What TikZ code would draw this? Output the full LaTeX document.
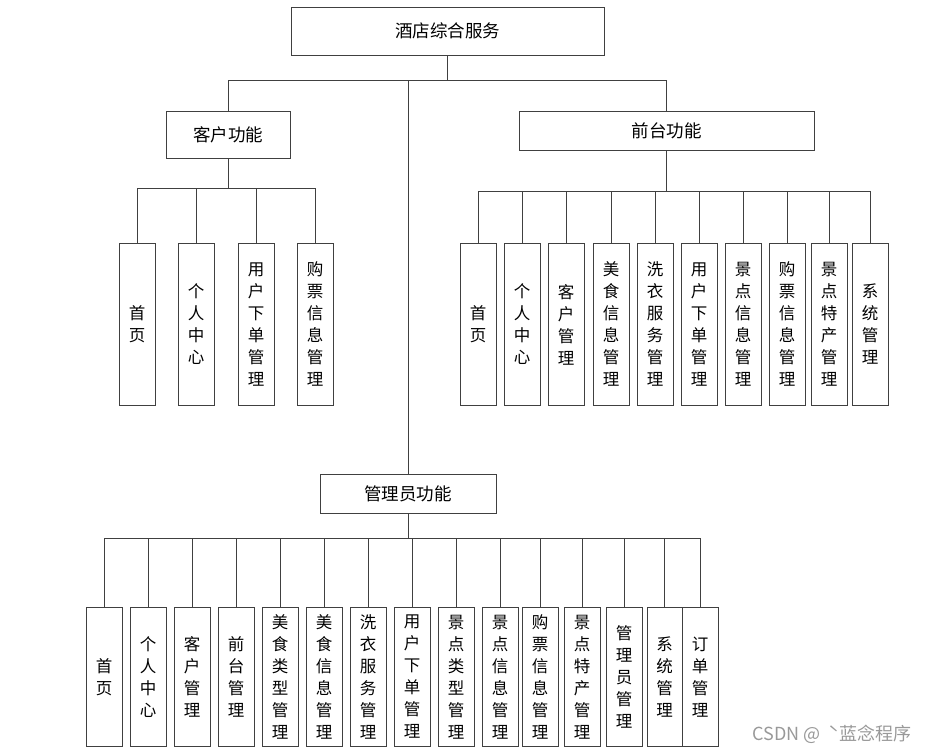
\documentclass[tikz,border=0pt]{standalone}
\usepackage{fontspec}
\setmainfont{Noto Sans CJK SC}
\usepackage{tikz}
\usetikzlibrary{positioning}
\definecolor{linegray}{HTML}{404040}

\begin{document}
\begin{tikzpicture}[x=1pt, y=-1pt,
    font=\fontsize{16.5}{22}\selectfont,
    headbox/.style={rectangle, draw=linegray, fill=white, line width=0.8pt, align=center,
      font=\fontsize{17.5}{22}\selectfont},
    leafbox/.style={rectangle, draw=linegray, fill=white, line width=0.8pt, align=center,
      minimum width=36pt, inner sep=0pt, anchor=north},
    qleaf/.style={leafbox, minimum height=162pt},
    aleaf/.style={leafbox, minimum height=139pt},
    link/.style={draw=linegray, line width=0.8pt}
  ]
    \useasboundingbox (0,0) rectangle (929,753);

    % top level
    \node[headbox, minimum width=313pt, minimum height=48pt] (root) at (447.5,31) {酒店综合服务};
    \node[headbox, minimum width=124pt, minimum height=47pt] (kehu) at (228,134.5) {客户功能};
    \node[headbox, minimum width=295pt, minimum height=39pt] (qiantai) at (666.5,130.5) {前台功能};
    \node[headbox, minimum width=176pt, minimum height=39pt] (admin) at (408,493.5) {管理员功能};

    % customer functions
    \node[qleaf] (k1) at (137,243) {首\\页};
    \node[qleaf] (k2) at (196,243) {个\\人\\中\\心};
    \node[qleaf] (k3) at (256,243) {用\\户\\下\\单\\管\\理};
    \node[qleaf] (k4) at (315,243) {购\\票\\信\\息\\管\\理};

    % front desk functions
    \node[qleaf] (q1) at (478,243) {首\\页};
    \node[qleaf] (q2) at (522,243) {个\\人\\中\\心};
    \node[qleaf] (q3) at (566,243) {客\\户\\管\\理};
    \node[qleaf] (q4) at (611,243) {美\\食\\信\\息\\管\\理};
    \node[qleaf] (q5) at (655,243) {洗\\衣\\服\\务\\管\\理};
    \node[qleaf] (q6) at (699,243) {用\\户\\下\\单\\管\\理};
    \node[qleaf] (q7) at (743,243) {景\\点\\信\\息\\管\\理};
    \node[qleaf] (q8) at (787,243) {购\\票\\信\\息\\管\\理};
    \node[qleaf] (q9) at (829,243) {景\\点\\特\\产\\管\\理};
    \node[qleaf] (q10) at (870,243) {系\\统\\管\\理};

    % admin functions
    \node[aleaf] (a1) at (104,607) {首\\页};
    \node[aleaf] (a2) at (148,607) {个\\人\\中\\心};
    \node[aleaf] (a3) at (192,607) {客\\户\\管\\理};
    \node[aleaf] (a4) at (236,607) {前\\台\\管\\理};
    \node[aleaf] (a5) at (280,607) {美\\食\\类\\型\\管\\理};
    \node[aleaf] (a6) at (324,607) {美\\食\\信\\息\\管\\理};
    \node[aleaf] (a7) at (368,607) {洗\\衣\\服\\务\\管\\理};
    \node[aleaf] (a8) at (412,607) {用\\户\\下\\单\\管\\理};
    \node[aleaf] (a9) at (456,607) {景\\点\\类\\型\\管\\理};
    \node[aleaf] (a10) at (500,607) {景\\点\\信\\息\\管\\理};
    \node[aleaf] (a11) at (540,607) {购\\票\\信\\息\\管\\理};
    \node[aleaf] (a12) at (582,607) {景\\点\\特\\产\\管\\理};
    \node[aleaf] (a13) at (624,607) {管\\理\\员\\管\\理};
    \node[aleaf, minimum width=35pt] (a14) at (664.5,607) {系\\统\\管\\理};
    \node[aleaf] (a15) at (700,607) {订\\单\\管\\理};

    \node[text=gray!80, font=\fontsize{18}{20}\selectfont] (mark) at (832,734) {CSDN @ \ ˋ蓝念程序};

    % connectors
    \coordinate (rbus) at (447.5,80);
    \coordinate (kbus) at (228,188);
    \coordinate (qbus) at (666.5,191);
    \coordinate (abus) at (408,538);

    \draw[link] (root) -- (rbus);
    \draw[link] (rbus) -| (kehu.north);
    \draw[link] (rbus) -| (qiantai.north);
    \draw[link] (admin.north) -- (admin.north |- rbus);

    \draw[link] (kehu) -- (kbus);
    \draw[link] (kbus) -| (k1.north) (kbus) -| (k2.north) (kbus) -| (k3.north) (kbus) -| (k4.north);

    \draw[link] (qiantai) -- (qbus);
    \draw[link] (qbus) -| (q1.north) (qbus) -| (q2.north) (qbus) -| (q3.north) (qbus) -| (q4.north)
      (qbus) -| (q5.north) (qbus) -| (q6.north) (qbus) -| (q7.north) (qbus) -| (q8.north)
      (qbus) -| (q9.north) (qbus) -| (q10.north);

    \draw[link] (admin) -- (abus);
    \draw[link] (abus) -| (a1.north) (abus) -| (a2.north) (abus) -| (a3.north) (abus) -| (a4.north)
      (abus) -| (a5.north) (abus) -| (a6.north) (abus) -| (a7.north) (abus) -| (a8.north)
      (abus) -| (a9.north) (abus) -| (a10.north) (abus) -| (a11.north) (abus) -| (a12.north)
      (abus) -| (a13.north) (abus) -| (a14.north) (abus) -| (a15.north);
  \end{tikzpicture}
\end{document}
